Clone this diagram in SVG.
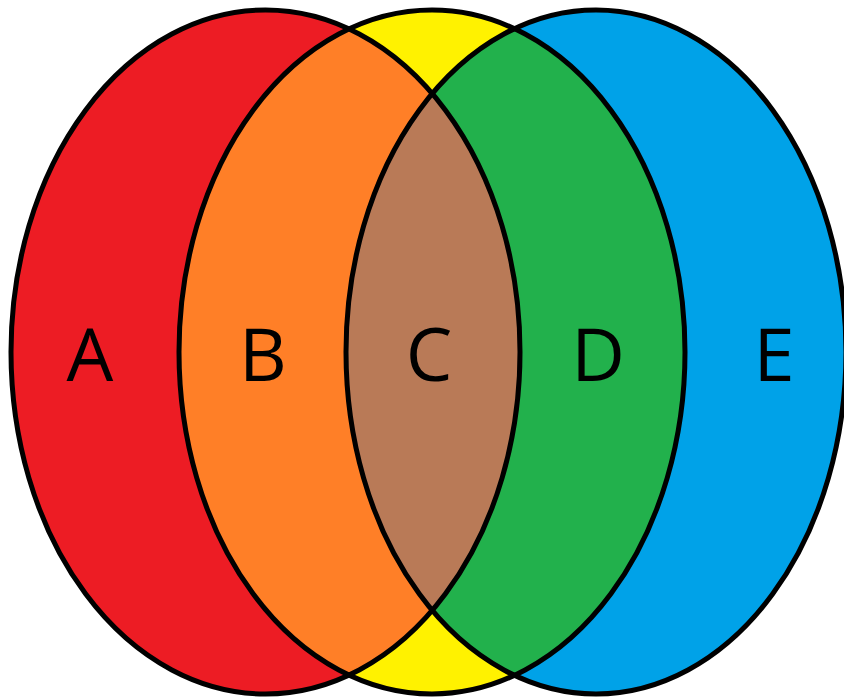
<svg xmlns="http://www.w3.org/2000/svg" width="844" height="699" viewBox="0 0 844 699">
  <style>
    .outline { fill: none; stroke: #000; stroke-width: 5; }
    .label { font-family: "Open Sans", "Liberation Sans", sans-serif; font-size: 74px; fill: #000; text-anchor: middle; }
  </style>
  <defs>
    <ellipse id="eL" cx="265.5" cy="352" rx="254.5" ry="342"/>
    <ellipse id="eM" cx="432" cy="352" rx="253" ry="342"/>
    <ellipse id="eR" cx="596" cy="352" rx="250" ry="342"/>
    <clipPath id="clipL"><use href="#eL"/></clipPath>
    <clipPath id="clipM"><use href="#eM"/></clipPath>
    <clipPath id="clipR"><use href="#eR"/></clipPath>
  </defs>
  <rect width="844" height="699" fill="#fff"/>
  <g id="fills">
    <use href="#eL" fill="#ED1C24"/>
    <use href="#eM" fill="#FFF200"/>
    <use href="#eR" fill="#00A2E8"/>
    <g clip-path="url(#clipL)"><use href="#eM" fill="#FF7F27"/></g>
    <g clip-path="url(#clipR)"><use href="#eM" fill="#22B14C"/></g>
    <g clip-path="url(#clipL)"><use href="#eR" fill="#B97A57"/></g>
  </g>
  <g id="outlines">
    <use href="#eL" class="outline"/>
    <use href="#eM" class="outline"/>
    <use href="#eR" class="outline"/>
  </g>
  <g id="A"><text class="label" x="90" y="381">A</text></g>
  <g id="B"><text class="label" x="263" y="381">B</text></g>
  <g id="C"><text class="label" x="429" y="381">C</text></g>
  <g id="D"><text class="label" x="598" y="381">D</text></g>
  <g id="E"><text class="label" x="774" y="381">E</text></g>
</svg>
